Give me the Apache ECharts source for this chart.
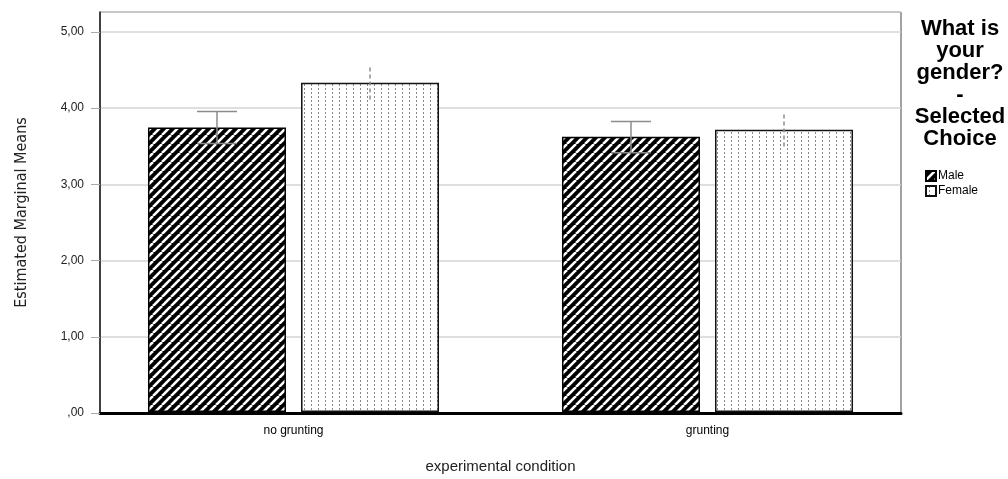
<!DOCTYPE html>
<html>
<head>
<meta charset="utf-8">
<script src="https://cdn.jsdelivr.net/npm/echarts@6/dist/echarts.min.js"></script>
<style>
  html, body { margin: 0; padding: 0; background: #fff; }
  #main { width: 1008px; height: 479px; }
</style>
</head>
<body>
<div id="main"></div>
<script>
// data
const categories = ['no grunting', 'grunting'];
const groups = ['Male', 'Female'];
const maleMeans = [3.74, 3.62];
const femaleMeans = [4.33, 3.71];
const maleLow = [3.53, 3.41];
const maleHigh = [3.95, 3.82];
const femaleLow = [4.11, 3.49];
const femaleHigh = [4.55, 3.94];

// hatch fills, SPSS style
function stripes() {
  const s = 9, c = document.createElement('canvas');
  c.width = s; c.height = s;
  const g = c.getContext('2d');
  g.fillStyle = '#000';
  g.fillRect(0, 0, s, s);
  g.strokeStyle = '#fff';
  g.lineWidth = 2.6;
  [-s, 0, s].forEach(x0 => {
    g.beginPath();
    g.moveTo(x0, s);
    g.lineTo(x0 + s, 0);
    g.stroke();
  });
  return c;
}
function dots() {
  const c = document.createElement('canvas');
  c.width = 7; c.height = 4;
  const g = c.getContext('2d');
  g.fillStyle = '#fff';
  g.fillRect(0, 0, 7, 4);
  g.fillStyle = '#8a8a8a';
  g.fillRect(3, 0, 1, 2);
  return c;
}

const malePattern = { image: stripes(), repeat: 'repeat' };
const femalePattern = { image: dots(), repeat: 'repeat' };

const chart = echarts.init(document.getElementById('main'));

const fmt = v => v === 0 ? ',00' : v.toFixed(2).replace('.', ',');

// error bar renderer: offset follows the bar layout inside the band
function errBar(sign, dashed) {
  return function (params, api) {
    const ci = api.value(0);
    const lo = api.coord([ci, api.value(1)]);
    const hi = api.coord([ci, api.value(2)]);
    const band = api.size([1, 0])[0];
    const x = lo[0] + sign * band * 76.5 / 414;
    const style = { stroke: '#8c8c8c', lineWidth: 1.5, lineDash: dashed ? [4, 3] : null };
    const kids = [{ type: 'line', shape: { x1: x, y1: lo[1], x2: x, y2: hi[1] }, style }];
    if (!dashed) {
      kids.push({ type: 'line', shape: { x1: x - 20, y1: hi[1], x2: x + 20, y2: hi[1] }, style });
      kids.push({ type: 'line', shape: { x1: x - 20, y1: lo[1], x2: x + 20, y2: lo[1] }, style });
    }
    return { type: 'group', children: kids };
  };
}

chart.setOption({
  animation: false,
  textStyle: { fontFamily: 'Liberation Sans, Arial, sans-serif' },
  title: {
    text: 'What is\nyour\ngender?\n-\nSelected\nChoice',
    left: 960,
    top: 18,
    padding: 0,
    textAlign: 'center',
    textStyle: { fontSize: 22, fontWeight: 'bold', color: '#000', lineHeight: 22 }
  },
  legend: {
    data: groups,
    orient: 'vertical',
    left: 925,
    top: 170,
    padding: 0,
    icon: 'rect',
    itemWidth: 10,
    itemHeight: 10,
    itemGap: 3,
    textStyle: { fontSize: 12, color: '#000', padding: [0, 0, 0, -3] }
  },
  grid: [
    // frame, gridlines and y axis
    { left: 100, right: 107, top: 12, bottom: 66, show: true, borderColor: '#444', borderWidth: 1 },
    // bars, band wider than the frame like SPSS lays it out
    { left: 86.5, right: 93.5, top: 12, bottom: 66 }
  ],
  xAxis: [
    {
      gridIndex: 0, type: 'category', data: categories,
      axisLine: { show: true, lineStyle: { color: '#000', width: 3 } },
      axisTick: { show: false }, axisLabel: { show: false }
    },
    {
      gridIndex: 1, type: 'category', data: categories,
      axisLine: { show: false }, axisTick: { show: false },
      axisLabel: { fontSize: 12, color: '#000', margin: 13 },
      name: 'experimental condition', nameLocation: 'middle', nameGap: 47,
      nameTextStyle: { fontSize: 15, color: '#222' }
    }
  ],
  yAxis: [
    {
      gridIndex: 0, type: 'value', min: 0, max: 5.26, interval: 1,
      axisLine: { show: true, lineStyle: { color: '#222', width: 1.5 } },
      axisTick: { show: true, length: 9, lineStyle: { color: '#aaa' } },
      axisLabel: { formatter: fmt, showMaxLabel: false, fontSize: 12, color: '#222', margin: 16 },
      splitLine: { lineStyle: { color: '#d4d4d4', width: 1.5 } },
      name: 'Estimated Marginal Means', nameLocation: 'middle', nameGap: 70,
      nameTextStyle: { fontSize: 16, color: '#222', fontFamily: 'Liberation Sans Narrow, DejaVu Sans Condensed, sans-serif' }
    },
    {
      gridIndex: 1, type: 'value', min: 0, max: 5.26,
      show: false, splitLine: { show: false }
    }
  ],
  series: [
    {
      name: 'Male', type: 'bar', xAxisIndex: 1, yAxisIndex: 1,
      data: maleMeans, barGap: '10.9%', barCategoryGap: '29.7%',
      itemStyle: { color: malePattern, borderColor: '#000', borderWidth: 1.5 }
    },
    {
      name: 'Female', type: 'bar', xAxisIndex: 1, yAxisIndex: 1,
      data: femaleMeans,
      itemStyle: { color: femalePattern, borderColor: '#111', borderWidth: 1.5 }
    },
    {
      name: 'Male CI', type: 'custom', xAxisIndex: 1, yAxisIndex: 1, z: 5,
      renderItem: errBar(-1, false),
      encode: { x: 0, y: [1, 2] },
      data: categories.map((c, i) => [i, maleLow[i], maleHigh[i]])
    },
    {
      name: 'Female CI', type: 'custom', xAxisIndex: 1, yAxisIndex: 1, z: 5,
      renderItem: errBar(1, true),
      encode: { x: 0, y: [1, 2] },
      data: categories.map((c, i) => [i, femaleLow[i], femaleHigh[i]])
    }
  ]
});
</script>
</body>
</html>
